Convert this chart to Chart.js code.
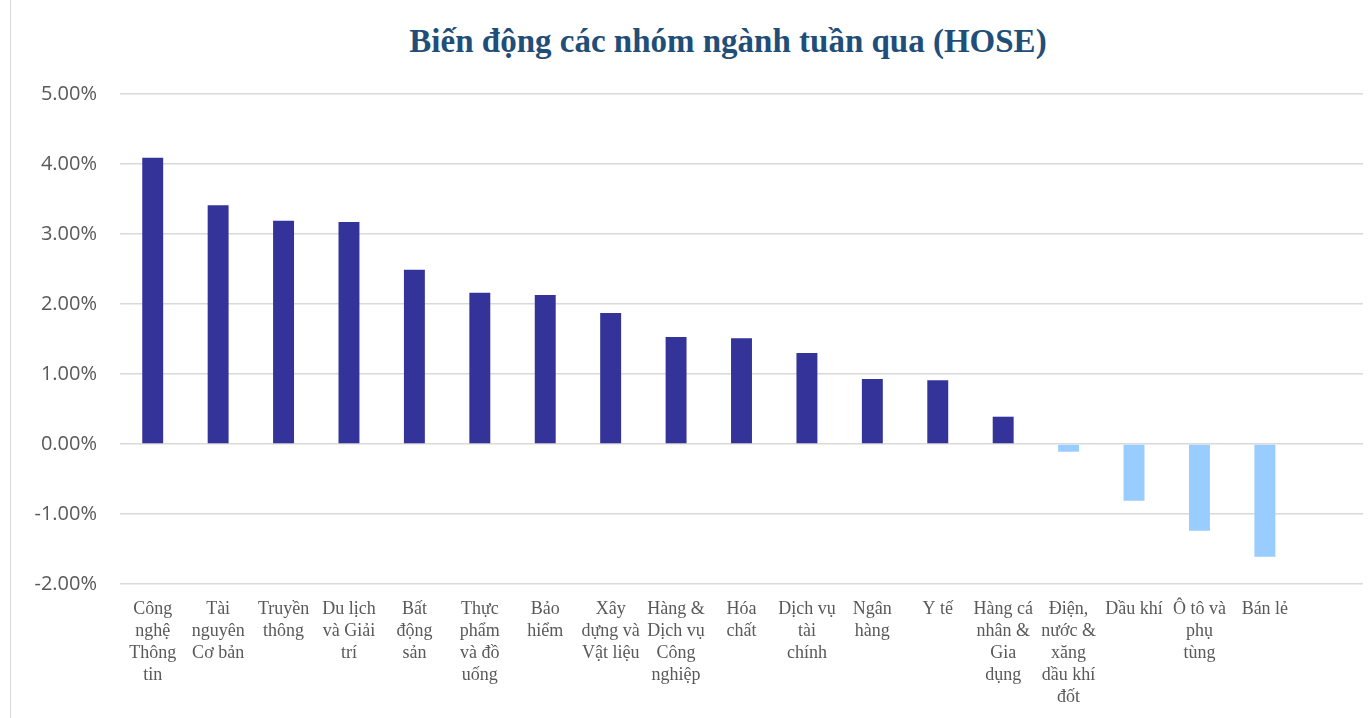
<!DOCTYPE html>
<html>
<head>
<meta charset="utf-8">
<script src="https://cdn.jsdelivr.net/npm/chart.js@4"></script>
<style>
  html, body { margin: 0; padding: 0; background: #fff; overflow: hidden; }
  #wrap { position: absolute; left: 10px; top: 0; width: 1434px; height: 718px; border-left: 1.5px solid #d9d9d9; }
  #title { position: absolute; left: 0; width: 1434px; top: 21px; text-align: center;
           font-family: "Liberation Serif", serif; font-weight: bold; font-size: 33px; color: #1f4e79; line-height: 40px; }
  canvas { position: absolute; left: 0; top: 0; }
</style>
</head>
<body>
<div id="wrap">
  <div id="title">Biến động các nhóm ngành tuần qua (HOSE)</div>
  <canvas id="c" width="1434" height="718"></canvas>
</div>
<script>
const categories = [
  ["Công", "nghệ", "Thông", "tin"],
  ["Tài", "nguyên", "Cơ bản"],
  ["Truyền", "thông"],
  ["Du lịch", "và Giải", "trí"],
  ["Bất", "động", "sản"],
  ["Thực", "phẩm", "và đồ", "uống"],
  ["Bảo", "hiểm"],
  ["Xây", "dựng và", "Vật liệu"],
  ["Hàng &", "Dịch vụ", "Công", "nghiệp"],
  ["Hóa", "chất"],
  ["Dịch vụ", "tài", "chính"],
  ["Ngân", "hàng"],
  ["Y tế"],
  ["Hàng cá", "nhân &", "Gia", "dụng"],
  ["Điện,", "nước &", "xăng", "dầu khí", "đốt"],
  ["Dầu khí"],
  ["Ô tô và", "phụ", "tùng"],
  ["Bán lẻ"],
  [""]
];
const changePct = [4.09, 3.41, 3.19, 3.17, 2.49, 2.16, 2.13, 1.87, 1.53, 1.51, 1.30, 0.93, 0.91, 0.39, -0.11, -0.81, -1.24, -1.61];
const yTicks = [-2, -1, 0, 1, 2, 3, 4, 5];

const POS = '#333399', NEG = '#99ccff';

new Chart(document.getElementById('c'), {
  type: 'bar',
  data: {
    labels: categories,
    datasets: [{
      data: changePct,
      backgroundColor: ctx => (ctx.raw >= 0 ? POS : NEG),
      borderWidth: 0,
      categoryPercentage: 1,
      barPercentage: 0.32
    }]
  },
  options: {
    responsive: false,
    animation: false,
    layout: { padding: { top: 94, left: 0, right: 82, bottom: 0 } },
    plugins: { legend: { display: false }, title: { display: false }, tooltip: { enabled: false } },
    scales: {
      x: {
        grid: { display: false, drawTicks: false },
        border: { display: false },
        ticks: {
          autoSkip: false, maxRotation: 0, minRotation: 0, padding: 14,
          color: '#595959',
          font: { family: '"Liberation Serif", serif', size: 18, lineHeight: 1.22 }
        },
        afterFit: s => { s.height = 134; }
      },
      y: {
        min: -2, max: 5,
        afterBuildTicks: s => { s.ticks = yTicks.map(v => ({ value: v })); },
        grid: { color: '#d9d9d9', lineWidth: 1.5, drawTicks: false },
        border: { display: false },
        ticks: {
          padding: 23, color: '#595959',
          font: { family: '"Open Sans", sans-serif', size: 20 },
          callback: v => v.toFixed(2) + '%'
        },
        afterFit: s => { s.width = 109; }
      }
    }
  }
});
</script>
</body>
</html>
